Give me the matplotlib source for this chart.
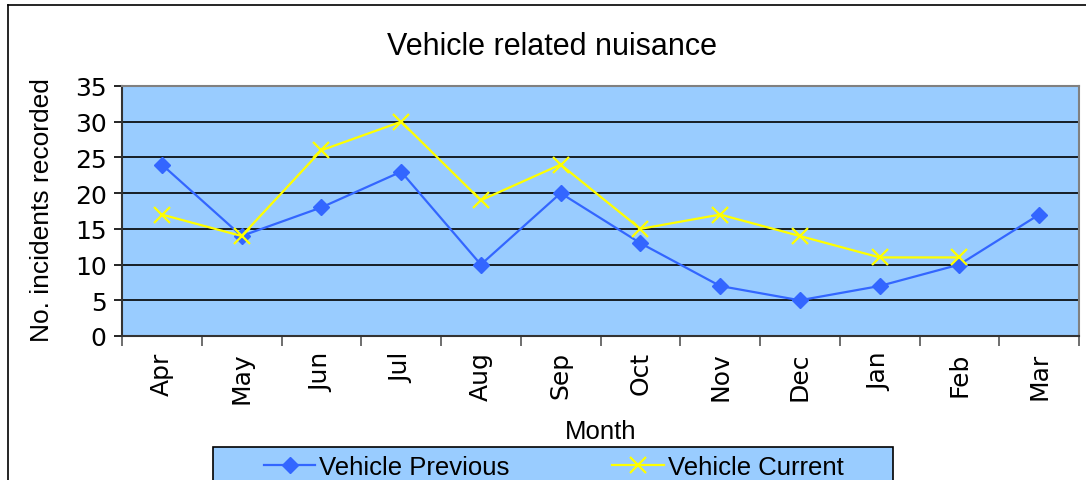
import matplotlib
matplotlib.use('Agg')
import matplotlib.pyplot as plt
from matplotlib.lines import Line2D
from matplotlib.patches import Rectangle
import numpy as np

# ── Data ──────────────────────────────────────────────────────────────────────
months   = ['Apr', 'May', 'Jun', 'Jul', 'Aug', 'Sep', 'Oct', 'Nov', 'Dec', 'Jan', 'Feb', 'Mar']
previous = [24, 14, 18, 23, 10, 20, 13, 7, 5, 7, 10, 17]
current  = [17, 14, 26, 30, 19, 24, 15, 17, 14, 11, 11, np.nan]
y_ticks  = [0, 5, 10, 15, 20, 25, 30, 35]

# ── Colours ───────────────────────────────────────────────────────────────────
PLOT_BG = '#99CCFF'
BLUE    = '#3366FF'
YELLOW  = '#FFFF00'

plt.rcParams['font.family'] = ['Liberation Sans', 'DejaVu Sans']
W, H = 1086, 481

fig = plt.figure(figsize=(W / 100, H / 100), dpi=100)
ax = fig.add_axes([122 / W, 1 - 337 / H, (1079 - 122) / W, (337 - 87) / H])
ax.set_facecolor(PLOT_BG)

x = np.arange(len(months))
ax.plot(x, previous, color=BLUE, lw=1.6, marker='D', ms=8, label='Vehicle Previous', zorder=3)
ax.plot(x, current, color=YELLOW, lw=1.6, marker='x', ms=11, mew=1.6, label='Vehicle Current', zorder=4)

ax.set_xlim(-0.5, len(months) - 0.5)
ax.set_ylim(0, 35)
ax.set_yticks(y_ticks)
ax.yaxis.grid(True, color='black', lw=1.2)
ax.set_axisbelow(True)

# category ticks between the months, labels at centres
ax.set_xticks(np.arange(-0.5, len(months)), labels=[])
ax.set_xticks(x, labels=months, minor=True)
ax.tick_params(axis='x', which='minor', length=0, labelrotation=90, pad=11,
               labelsize=18, labelfontfamily='DejaVu Sans')
ax.tick_params(axis='x', which='major', length=7, width=1.2, color='#555555')
ax.tick_params(axis='y', length=6, width=1.2, pad=5, labelsize=18,
               labelfontfamily='DejaVu Sans')

for side in ['top', 'right']:
    ax.spines[side].set_color('#808080')
    ax.spines[side].set_linewidth(1.5)
for side in ['left', 'bottom']:
    ax.spines[side].set_color('#333333')
    ax.spines[side].set_linewidth(1.5)

fig.text(42 / W, 1 - 210 / H, 'No. incidents recorded', fontsize=19, rotation=90,
         ha='center', va='center')
fig.text(601 / W, 1 - 432 / H, 'Month', fontsize=18.5, ha='center', va='center')
fig.text(552 / W, 1 - 47 / H, 'Vehicle related nuisance', fontsize=22, ha='center', va='center')

# legend box (cropped at bottom)
fig.add_artist(Rectangle((213 / W, -0.05), (893 - 213) / W, 0.05 + 1 - 448 / H,
                         transform=fig.transFigure, facecolor=PLOT_BG,
                         edgecolor='black', lw=1.2, zorder=1))
leg = fig.legend(loc='center left', bbox_to_anchor=(264 / W, 1 - 468 / H),
                 ncol=2, fontsize=18.5, frameon=False, handlelength=2.0,
                 handletextpad=0.15, columnspacing=4.0, borderpad=0, borderaxespad=0)
leg.set_zorder(2)

# outer chart frame (cropped at right and bottom)
fig.add_artist(Line2D([8 / W, 8 / W], [0, 1 - 6 / H], color='black', lw=1.2,
                      transform=fig.transFigure))
fig.add_artist(Line2D([8 / W, 1], [1 - 6 / H, 1 - 6 / H], color='black', lw=1.2,
                      transform=fig.transFigure))

fig.savefig('out.png', dpi=100, facecolor='white')
